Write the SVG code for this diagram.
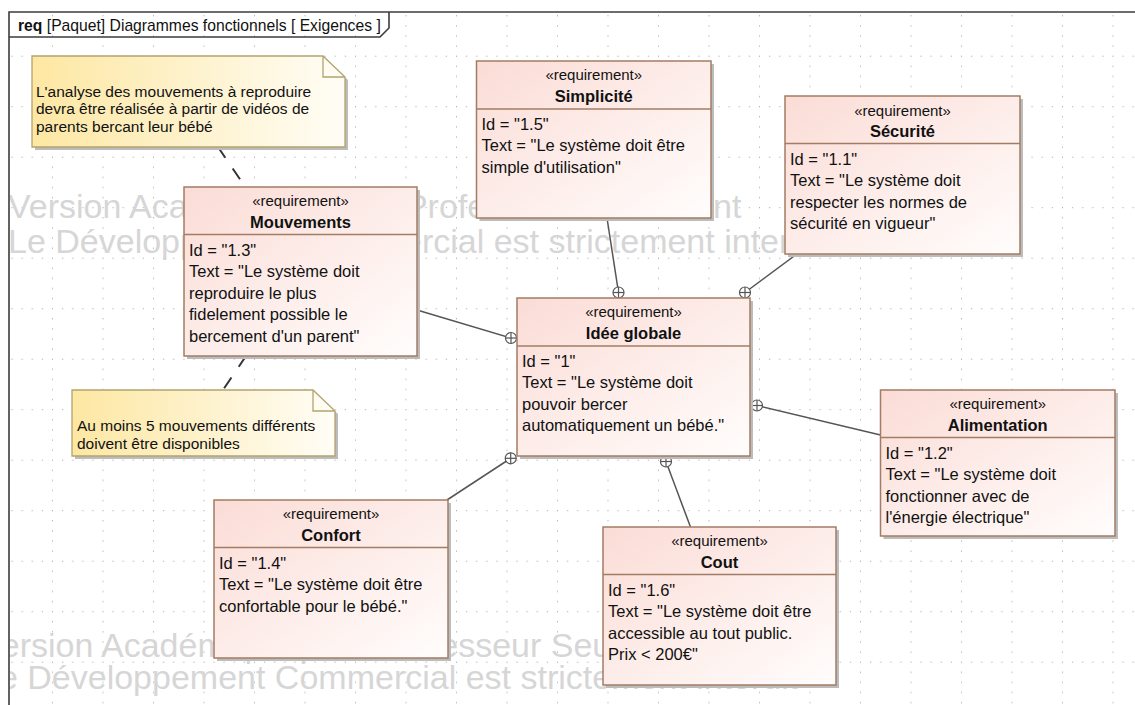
<svg xmlns="http://www.w3.org/2000/svg" width="1135" height="705" viewBox="0 0 1135 705">
<style>
.bg{fill:#ffffff}
.frame{fill:none;stroke:#3c3c3c;stroke-width:1.6}
.box{fill:url(#reqG);stroke:#a27c63;stroke-width:1.5}
.div{stroke:#a27c63;stroke-width:1.5}
.shadow{fill:#bcbcbc}
.note{fill:url(#noteG);stroke:#b3a46e;stroke-width:1.3}
.fold{fill:none;stroke:#b3a46e;stroke-width:1.3}
.t{font-family:"Liberation Sans",Arial,sans-serif;font-size:16.5px;fill:#111}
.st{font-size:15px;text-anchor:middle}
.nm{font-weight:bold;text-anchor:middle}
.nt{font-size:15.5px}
.ttl{font-size:15.7px}
.wm{font-family:"Liberation Sans",Arial,sans-serif;font-size:34px;fill:#d6d6d6}
.conn{stroke:#555555;stroke-width:1.5;fill:none}
.dash{stroke:#333333;stroke-width:2;stroke-dasharray:13 13;fill:none}
.xc{fill:#ffffff;stroke:#555555;stroke-width:1.2}
</style>
<defs>
<linearGradient id="reqG" x1="0" y1="0" x2="1" y2="1"><stop offset="0" stop-color="#fbdcd6"/><stop offset="1" stop-color="#fffdfc"/></linearGradient>
<linearGradient id="noteG" x1="0" y1="0" x2="1" y2="0"><stop offset="0" stop-color="#fde7a2"/><stop offset="1" stop-color="#fffdf6"/></linearGradient>
<pattern id="grid" x="1.5" y="5.2" width="50.5" height="50.5" patternUnits="userSpaceOnUse">
<g fill="#9c9c9c">
<rect x="0" y="0" width="1" height="1"/><rect x="10.1" y="0" width="1" height="1"/><rect x="20.2" y="0" width="1" height="1"/><rect x="30.3" y="0" width="1" height="1"/><rect x="40.4" y="0" width="1" height="1"/>
<rect x="0" y="10.1" width="1" height="1"/><rect x="0" y="20.2" width="1" height="1"/><rect x="0" y="30.3" width="1" height="1"/><rect x="0" y="40.4" width="1" height="1"/>
</g>
</pattern>
<clipPath id="inFrame"><rect x="10" y="13" width="1130" height="700"/></clipPath>
<g id="cross">
<circle cx="0" cy="0" r="5.5" class="xc"/>
<line x1="-5.5" y1="0" x2="5.5" y2="0" stroke="#555555" stroke-width="1.2"/>
<line x1="0" y1="-5.5" x2="0" y2="5.5" stroke="#555555" stroke-width="1.2"/>
</g>
</defs>

<rect class="bg" x="0" y="0" width="1135" height="705"/>
<rect x="9" y="12" width="1130" height="700" fill="url(#grid)"/>

<g id="watermark" clip-path="url(#inFrame)">
<text class="wm" x="8" y="218">Version Académique pour Professeur Seulement</text>
<text class="wm" x="8" y="253">Le Développement Commercial est strictement interdit</text>
<text class="wm" x="-20" y="657">Version Académique pour Professeur Seulement</text>
<text class="wm" x="-20" y="689">Le Développement Commercial est strictement interdit</text>
</g>

<g id="frame">
<path class="frame" d="M1140 12 L9 12 L9 710"/>
<path class="frame" d="M9 37 L380 37 L389 28 L389 12"/>
<text class="t ttl" x="18" y="30.5"><tspan font-weight="bold">req</tspan> [Paquet] Diagrammes fonctionnels [ Exigences ]</text>
</g>

<g id="connectors">
<line class="dash" x1="218" y1="147" x2="246" y2="188"/>
<line class="dash" x1="246" y1="356" x2="223" y2="390"/>
<line class="conn" x1="417" y1="310" x2="511" y2="338"/>
<line class="conn" x1="607" y1="218" x2="618.5" y2="292.5"/>
<line class="conn" x1="797" y1="254" x2="745" y2="292.5"/>
<line class="conn" x1="880.5" y1="435" x2="757" y2="405.5"/>
<line class="conn" x1="447" y1="500" x2="510.7" y2="458.3"/>
<line class="conn" x1="690.5" y1="527" x2="666" y2="461.5"/>
<use href="#cross" x="511" y="338"/>
<use href="#cross" x="618.5" y="292.5"/>
<use href="#cross" x="745" y="292.5"/>
<use href="#cross" x="757" y="405.5"/>
<use href="#cross" x="510.7" y="458.3"/>
<use href="#cross" x="666" y="461.5"/>
</g>

<g id="note1">
<path class="shadow" d="M35 59 L326 59 L348 80 L348 150 L35 150 Z"/>
<path class="note" d="M32 56 L323 56 L345 77 L345 147 L32 147 Z"/>
<path class="fold" d="M323 56 L323 77 L345 77"/>
<text class="t nt" x="36" y="96.5">L'analyse des mouvements à reproduire</text>
<text class="t nt" x="36" y="114">devra être réalisée à partir de vidéos de</text>
<text class="t nt" x="36" y="131.5">parents bercant leur bébé</text>
</g>

<g id="note2">
<path class="shadow" d="M75 393 L316 393 L338 414 L338 459 L75 459 Z"/>
<path class="note" d="M72 390 L313 390 L335 411 L335 456 L72 456 Z"/>
<path class="fold" d="M313 390 L313 411 L335 411"/>
<text class="t nt" x="77" y="431">Au moins 5 mouvements différents</text>
<text class="t nt" x="77" y="448.5">doivent être disponibles</text>
</g>

<g id="mouvements">
<rect class="shadow" x="187" y="190" width="233" height="169"/>
<rect class="box" x="184" y="187" width="233" height="169"/>
<line class="div" x1="184" y1="234.5" x2="417" y2="234.5"/>
<text class="t st" x="300.5" y="206">«requirement»</text>
<text class="t nm" x="300.5" y="227.5">Mouvements</text>
<text class="t" x="189" y="255.5">Id = "1.3"</text>
<text class="t" x="189" y="277">Text = "Le système doit</text>
<text class="t" x="189" y="298.5">reproduire le plus</text>
<text class="t" x="189" y="320">fidelement possible le</text>
<text class="t" x="189" y="341.5">bercement d'un parent"</text>
</g>

<g id="simplicite">
<rect class="shadow" x="479.5" y="64" width="234.5" height="157"/>
<rect class="box" x="476.5" y="61" width="234.5" height="157"/>
<line class="div" x1="476.5" y1="109" x2="711" y2="109"/>
<text class="t st" x="593.75" y="80">«requirement»</text>
<text class="t nm" x="593.75" y="101.5">Simplicité</text>
<text class="t" x="481.5" y="129.5">Id = "1.5"</text>
<text class="t" x="481.5" y="151">Text = "Le système doit être</text>
<text class="t" x="481.5" y="172.5">simple d'utilisation"</text>
</g>

<g id="securite">
<rect class="shadow" x="788" y="99" width="235" height="158"/>
<rect class="box" x="785" y="96" width="235" height="158"/>
<line class="div" x1="785" y1="143.5" x2="1020" y2="143.5"/>
<text class="t st" x="902.5" y="116">«requirement»</text>
<text class="t nm" x="902.5" y="136.5">Sécurité</text>
<text class="t" x="790" y="164.5">Id = "1.1"</text>
<text class="t" x="790" y="186">Text = "Le système doit</text>
<text class="t" x="790" y="207.5">respecter les normes de</text>
<text class="t" x="790" y="229">sécurité en vigueur"</text>
</g>

<g id="idee-globale">
<rect class="shadow" x="520" y="301" width="233" height="158"/>
<rect class="box" x="517" y="298" width="233" height="158"/>
<line class="div" x1="517" y1="346" x2="750" y2="346"/>
<text class="t st" x="633.5" y="317">«requirement»</text>
<text class="t nm" x="633.5" y="338.5">Idée globale</text>
<text class="t" x="522" y="366.5">Id = "1"</text>
<text class="t" x="522" y="388">Text = "Le système doit</text>
<text class="t" x="522" y="409.5">pouvoir bercer</text>
<text class="t" x="522" y="431">automatiquement un bébé."</text>
</g>

<g id="alimentation">
<rect class="shadow" x="883.5" y="393" width="234.5" height="146"/>
<rect class="box" x="880.5" y="390" width="234.5" height="146"/>
<line class="div" x1="880.5" y1="437.5" x2="1115" y2="437.5"/>
<text class="t st" x="997.75" y="409">«requirement»</text>
<text class="t nm" x="997.75" y="430.5">Alimentation</text>
<text class="t" x="885.5" y="458.5">Id = "1.2"</text>
<text class="t" x="885.5" y="480">Text = "Le système doit</text>
<text class="t" x="885.5" y="501.5">fonctionner avec de</text>
<text class="t" x="885.5" y="523">l'énergie électrique"</text>
</g>

<g id="confort">
<rect class="shadow" x="217" y="503" width="234" height="158"/>
<rect class="box" x="214" y="500" width="234" height="158"/>
<line class="div" x1="214" y1="547.5" x2="448" y2="547.5"/>
<text class="t st" x="331" y="519">«requirement»</text>
<text class="t nm" x="331" y="540.5">Confort</text>
<text class="t" x="219" y="568.5">Id = "1.4"</text>
<text class="t" x="219" y="590">Text = "Le système doit être</text>
<text class="t" x="219" y="611.5">confortable pour le bébé."</text>
</g>

<g id="cout">
<rect class="shadow" x="606" y="530" width="233" height="158"/>
<rect class="box" x="603" y="527" width="233" height="158"/>
<line class="div" x1="603" y1="574.5" x2="836" y2="574.5"/>
<text class="t st" x="719.5" y="546">«requirement»</text>
<text class="t nm" x="719.5" y="567.5">Cout</text>
<text class="t" x="608" y="595.5">Id = "1.6"</text>
<text class="t" x="608" y="617">Text = "Le système doit être</text>
<text class="t" x="608" y="638.5">accessible au tout public.</text>
<text class="t" x="608" y="660">Prix &lt; 200€"</text>
</g>
</svg>
